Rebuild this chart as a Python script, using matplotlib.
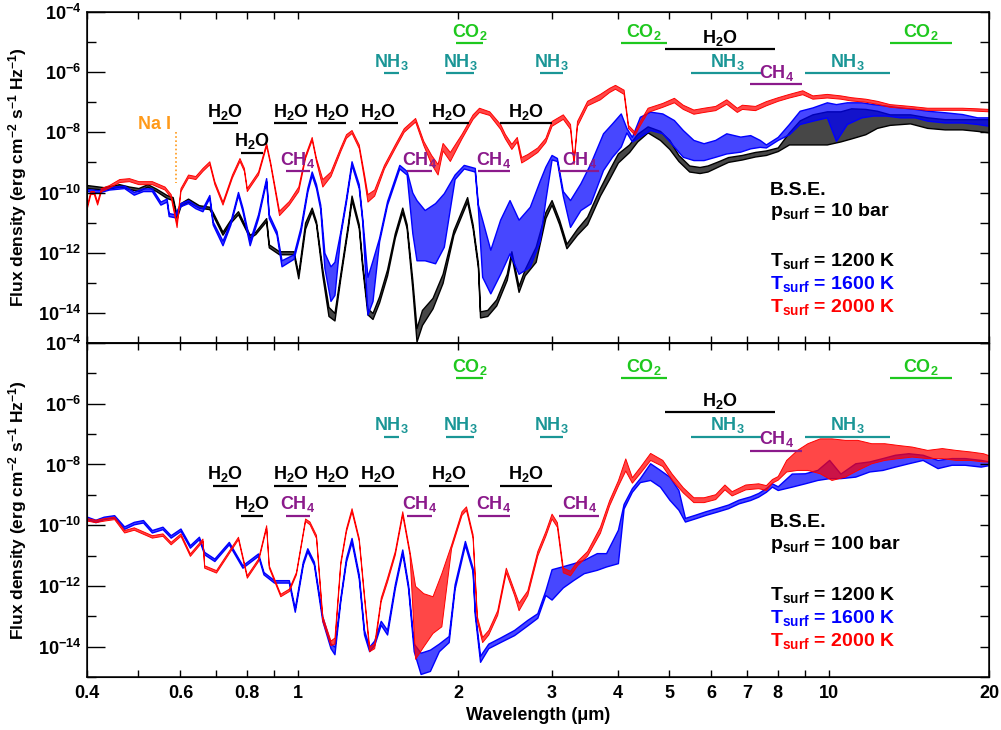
#!/usr/bin/env python3
# Emission spectra of a B.S.E. atmosphere for two surface pressures (10 bar / 100 bar)
# and three surface temperatures. Spectra are kept as lower / upper envelopes in
# log10(flux), drawn as thin filled bands.

import matplotlib

matplotlib.use("Agg")
import matplotlib.pyplot as plt
import numpy as np
from matplotlib.colors import to_rgba
from matplotlib.ticker import FixedLocator, NullFormatter, NullLocator

plt.rcParams["font.family"] = ["Liberation Sans", "DejaVu Sans"]
plt.rcParams["font.weight"] = "bold"
plt.rcParams["mathtext.fontset"] = "custom"
plt.rcParams["mathtext.rm"] = "Liberation Sans:bold"
plt.rcParams["mathtext.bf"] = "Liberation Sans:bold"
plt.rcParams["mathtext.it"] = "Liberation Sans:bold"
plt.rcParams["mathtext.default"] = "rm"

# ---------------------------------------------------------------------------------------------
# Data: p_surf = 10 bar (top panel)
# ---------------------------------------------------------------------------------------------

top_1200_wl = [0.40, 0.43, 0.46, 0.48, 0.50, 0.52, 0.54, 0.565, 0.58, 0.59, 0.60, 0.62, 0.65,
               0.68, 0.69, 0.72, 0.745, 0.77, 0.81, 0.83, 0.87, 0.88, 0.92, 0.98, 1.00, 1.03,
               1.06, 1.08, 1.11, 1.14, 1.17, 1.20, 1.24, 1.26, 1.30, 1.32, 1.35, 1.38, 1.42,
               1.47, 1.52, 1.57, 1.60, 1.64, 1.67, 1.71, 1.79, 1.87, 1.96, 2.08, 2.13, 2.18,
               2.20, 2.27, 2.36, 2.47, 2.52, 2.60, 2.67, 2.80, 2.92, 3.00, 3.10, 3.20, 3.35,
               3.50, 3.70, 3.85, 4.00, 4.20, 4.35, 4.55, 4.80, 5.00, 5.20, 5.45, 5.70, 5.90,
               6.20, 6.45, 6.85, 7.25, 7.60, 8.00, 8.40, 8.80, 9.30, 9.90, 10.5, 11.0, 11.7,
               12.3, 13.0, 14.2, 15.3, 16.5, 17.8, 19.0, 20.0]
top_1200_lo = [-9.85, -9.90, -9.80, -9.88, -9.95, -9.80, -9.95, -10.18, -10.25, -10.85, -10.45,
               -10.30, -10.50, -10.55, -10.75, -11.40, -11.00, -10.72, -11.50, -11.38, -10.95,
               -11.82, -12.05, -12.05, -12.85, -11.20, -10.62, -11.05, -12.75, -14.10, -14.25,
               -12.85, -11.18, -10.25, -11.18, -12.50, -14.05, -14.20, -13.65, -12.75, -11.50,
               -10.65, -11.18, -13.20, -14.95, -14.40, -13.85, -13.00, -11.40, -10.30, -11.18,
               -12.50, -14.15, -14.10, -13.75, -12.90, -12.10, -13.30, -12.75, -12.30, -10.85,
               -10.40, -11.05, -11.85, -11.40, -11.05, -10.10, -9.55, -9.00, -8.65, -8.30,
               -8.00, -8.25, -8.55, -8.95, -9.30, -9.35, -9.30, -9.12, -8.98, -8.90, -8.80,
               -8.75, -8.62, -8.40, -8.40, -8.40, -8.40, -8.30, -8.20, -8.06, -7.85, -7.75,
               -7.70, -7.85, -7.90, -7.90, -7.95, -8.00]
top_1200_hi = [-9.75, -9.82, -9.72, -9.80, -9.85, -9.72, -9.87, -10.08, -10.15, -10.75, -10.35,
               -10.20, -10.42, -10.47, -10.65, -11.30, -10.90, -10.62, -11.40, -11.30, -10.85,
               -11.72, -11.95, -11.95, -12.70, -11.00, -10.50, -10.95, -12.55, -13.80, -14.00,
               -12.70, -11.05, -10.10, -11.05, -12.35, -13.85, -14.00, -13.45, -12.55, -11.35,
               -10.50, -11.05, -12.90, -14.50, -13.90, -13.50, -12.70, -11.25, -10.15, -11.05,
               -12.35, -13.95, -13.90, -13.55, -12.70, -11.95, -13.10, -12.55, -11.80, -10.65,
               -10.25, -10.90, -11.70, -11.20, -10.80, -9.85, -9.25, -8.70, -8.40, -8.05,
               -7.80, -7.95, -8.25, -8.75, -9.10, -9.15, -9.10, -8.95, -8.82, -8.75, -8.65,
               -8.60, -8.50, -8.00, -7.60, -7.40, -7.30, -7.30, -7.20, -7.22, -7.28, -7.40,
               -7.40, -7.50, -7.56, -7.56, -7.56, -7.56]

top_1600_wl = [0.40, 0.42, 0.44, 0.47, 0.49, 0.51, 0.53, 0.55, 0.565, 0.57, 0.585, 0.60, 0.62,
               0.64, 0.66, 0.68, 0.69, 0.72, 0.745, 0.77, 0.785, 0.81, 0.84, 0.87, 0.88, 0.91,
               0.93, 0.98, 1.01, 1.04, 1.06, 1.08, 1.10, 1.12, 1.15, 1.17, 1.20, 1.23, 1.26,
               1.30, 1.32, 1.35, 1.38, 1.42, 1.47, 1.55, 1.60, 1.64, 1.67, 1.73, 1.81, 1.88,
               1.97, 2.05, 2.15, 2.18, 2.22, 2.30, 2.40, 2.50, 2.60, 2.73, 2.85, 2.92, 3.00,
               3.07, 3.15, 3.25, 3.40, 3.55, 3.75, 3.90, 4.05, 4.15, 4.25, 4.40, 4.60, 4.85,
               5.10, 5.30, 5.55, 5.80, 6.10, 6.40, 6.80, 7.10, 7.40, 7.60, 8.00, 8.40, 8.80,
               9.30, 9.90, 10.3, 10.8, 11.5, 12.1, 12.8, 13.6, 14.5, 15.3, 16.5, 17.8, 19.0,
               20.0]
top_1600_lo = [-9.95, -10.00, -9.90, -9.85, -10.07, -9.95, -9.95, -10.40, -10.30, -10.78,
               -10.82, -10.45, -10.35, -10.52, -10.62, -10.18, -11.06, -11.75, -11.06, -10.08,
               -10.62, -11.75, -10.85, -9.62, -10.85, -11.40, -12.45, -12.20, -11.30, -9.98,
               -9.42, -9.85, -10.55, -12.50, -13.60, -13.40, -11.42, -10.30, -9.08, -9.85,
               -10.98, -14.05, -13.60, -11.62, -10.40, -9.20, -9.40, -11.35, -12.25, -12.25,
               -12.35, -11.80, -9.55, -9.20, -9.30, -10.55, -12.80, -13.35, -12.70, -12.02,
               -12.70, -12.46, -11.60, -10.25, -8.90, -8.95, -10.10, -11.14, -10.58, -10.36,
               -9.25, -8.81, -8.47, -8.00, -8.30, -8.14, -7.92, -8.03, -8.47, -8.81, -8.92,
               -8.92, -8.81, -8.70, -8.64, -8.53, -8.48, -8.50, -8.25, -8.06, -7.72, -7.61,
               -7.50, -8.28, -7.72, -7.50, -7.44, -7.44, -7.50, -7.50, -7.61, -7.67, -7.67,
               -7.72, -7.78]
top_1600_hi = [-9.88, -9.92, -9.82, -9.77, -9.98, -9.86, -9.86, -10.30, -10.20, -10.68, -10.72,
               -10.35, -10.25, -10.42, -10.52, -10.08, -10.96, -11.60, -10.96, -9.98, -10.50,
               -11.60, -10.72, -9.52, -10.72, -11.28, -12.25, -12.05, -11.15, -9.85, -9.30,
               -9.72, -10.40, -12.00, -12.45, -12.30, -11.30, -10.18, -8.96, -9.72, -10.85,
               -12.80, -12.25, -11.50, -10.28, -9.08, -9.28, -10.00, -10.25, -10.58, -10.35,
               -10.02, -9.40, -9.08, -9.18, -10.40, -10.90, -11.90, -10.90, -10.25, -10.90,
               -10.47, -9.60, -9.14, -8.75, -8.85, -9.95, -10.25, -9.69, -9.03, -8.03, -7.70,
               -7.37, -7.85, -8.15, -7.48, -7.31, -7.37, -7.59, -7.92, -8.25, -8.36, -8.25,
               -8.03, -8.14, -8.09, -8.25, -8.40, -8.15, -7.72, -7.28, -7.17, -7.00, -7.06,
               -7.00, -7.00, -7.06, -7.11, -7.17, -7.22, -7.28, -7.33, -7.39, -7.50, -7.50]

top_2000_wl = [0.400, 0.406, 0.412, 0.418, 0.425, 0.44, 0.46, 0.48, 0.50, 0.53, 0.56, 0.575,
               0.59, 0.60, 0.62, 0.64, 0.66, 0.68, 0.695, 0.72, 0.75, 0.775, 0.79, 0.80, 0.84,
               0.87, 0.885, 0.92, 0.96, 1.00, 1.03, 1.06, 1.08, 1.11, 1.15, 1.20, 1.23, 1.26,
               1.30, 1.33, 1.35, 1.39, 1.45, 1.52, 1.58, 1.66, 1.72, 1.78, 1.83, 1.87, 1.93,
               2.03, 2.13, 2.19, 2.29, 2.40, 2.45, 2.52, 2.58, 2.63, 2.70, 2.82, 2.92, 3.00,
               3.15, 3.25, 3.30, 3.35, 3.50, 3.70, 3.85, 3.95, 4.10, 4.18, 4.30, 4.40, 4.55,
               4.85, 5.10, 5.30, 5.55, 5.80, 6.10, 6.40, 6.70, 6.85, 7.25, 7.60, 8.00, 8.40,
               8.90, 9.30, 9.90, 10.5, 11.0, 11.7, 12.3, 13.0, 14.2, 15.3, 16.5, 17.8, 19.0,
               20.0]
top_2000_lo = [-10.50, -10.05, -10.05, -10.40, -9.95, -9.83, -9.65, -9.62, -9.72, -9.72, -9.90,
               -10.15, -11.15, -9.95, -9.50, -9.55, -9.28, -9.06, -9.72, -10.40, -9.50, -8.95,
               -9.28, -9.95, -9.40, -8.45, -9.06, -10.75, -10.40, -9.95, -8.85, -8.25, -8.95,
               -9.80, -9.45, -8.62, -8.18, -8.02, -8.52, -9.55, -10.30, -10.10, -9.20, -8.52,
               -7.98, -7.64, -8.42, -9.05, -9.40, -8.60, -8.95, -8.20, -7.55, -7.32, -7.42,
               -7.88, -8.20, -8.55, -8.30, -9.00, -8.88, -8.65, -8.32, -7.78, -7.55, -7.88,
               -9.05, -7.78, -7.10, -6.90, -6.66, -6.55, -6.72, -7.85, -8.08, -7.75, -7.32,
               -7.15, -7.00, -7.22, -7.38, -7.32, -7.26, -7.05, -7.32, -7.22, -7.26, -7.10,
               -6.95, -6.84, -6.73, -6.88, -6.84, -6.88, -6.94, -6.98, -7.05, -7.15, -7.20,
               -7.25, -7.25, -7.25, -7.28, -7.30]
top_2000_hi = [-10.40, -9.95, -9.95, -10.30, -9.85, -9.75, -9.55, -9.52, -9.62, -9.62, -9.80,
               -10.05, -11.00, -9.85, -9.40, -9.45, -9.18, -8.96, -9.62, -10.30, -9.40, -8.85,
               -9.18, -9.85, -9.30, -8.35, -8.96, -10.60, -10.28, -9.80, -8.75, -8.15, -8.85,
               -9.55, -9.30, -8.50, -8.06, -7.92, -8.40, -9.38, -10.05, -9.90, -9.08, -8.40,
               -7.86, -7.52, -8.28, -8.75, -9.05, -8.35, -8.65, -8.05, -7.40, -7.18, -7.30,
               -7.72, -8.05, -8.38, -8.15, -8.82, -8.72, -8.50, -8.18, -7.62, -7.40, -7.72,
               -8.95, -7.62, -6.95, -6.72, -6.52, -6.42, -6.58, -7.75, -7.98, -7.62, -7.18,
               -7.02, -6.85, -7.08, -7.24, -7.18, -7.12, -6.90, -7.18, -7.08, -7.12, -6.96,
               -6.83, -6.72, -6.60, -6.77, -6.72, -6.77, -6.83, -6.88, -6.95, -7.06, -7.12,
               -7.18, -7.18, -7.18, -7.20, -7.22]

# ---------------------------------------------------------------------------------------------
# Data: p_surf = 100 bar (bottom panel)
# ---------------------------------------------------------------------------------------------

bot_1600_wl = [0.40, 0.415, 0.43, 0.45, 0.47, 0.49, 0.51, 0.53, 0.555, 0.575, 0.60, 0.625, 0.65,
               0.665, 0.695, 0.74, 0.785, 0.84, 0.86, 0.90, 0.96, 0.985, 1.02, 1.04, 1.07, 1.11,
               1.15, 1.17, 1.20, 1.23, 1.26, 1.30, 1.33, 1.36, 1.39, 1.43, 1.47, 1.52, 1.57,
               1.61, 1.65, 1.70, 1.77, 1.84, 1.92, 1.97, 2.06, 2.13, 2.15, 2.20, 2.28, 2.40,
               2.55, 2.70, 2.82, 2.92, 3.00, 3.15, 3.30, 3.45, 3.65, 3.80, 4.00, 4.10, 4.25,
               4.40, 4.60, 4.80, 5.00, 5.20, 5.35, 5.60, 5.85, 6.15, 6.45, 6.75, 7.10, 7.35,
               7.60, 7.80, 8.00, 8.50, 9.00, 9.50, 10.0, 10.5, 11.2, 11.9, 12.6, 13.3, 14.1,
               15.0, 16.0, 17.0, 18.0, 19.3, 20.0]
bot_1600_lo = [-9.80, -9.90, -9.80, -9.75, -10.12, -9.97, -9.91, -10.24, -10.13, -10.41, -10.19,
               -10.74, -10.46, -10.96, -11.18, -10.63, -11.40, -11.01, -11.62, -11.89, -11.89,
               -12.85, -11.30, -10.86, -11.30, -13.15, -14.05, -14.25, -12.50, -11.20, -10.55,
               -11.75, -13.60, -14.15, -13.95, -13.28, -13.60, -12.08, -10.92, -12.08, -14.15,
               -14.90, -14.80, -14.15, -13.85, -12.10, -10.65, -11.52, -12.95, -14.50, -14.05,
               -13.85, -13.62, -13.30, -13.05, -12.30, -12.45, -12.05, -11.80, -11.58, -11.47,
               -11.36, -11.25, -9.45, -8.90, -8.58, -8.51, -8.73, -9.16, -9.49, -9.88, -9.77,
               -9.66, -9.55, -9.44, -9.28, -9.17, -9.06, -8.90, -8.73, -8.84, -8.73, -8.62,
               -8.51, -8.45, -8.45, -8.40, -8.23, -8.18, -8.07, -7.96, -7.85, -8.12, -8.01,
               -8.01, -8.07, -8.02]
bot_1600_hi = [-9.72, -9.82, -9.72, -9.67, -10.04, -9.89, -9.83, -10.16, -10.05, -10.33, -10.11,
               -10.66, -10.38, -10.88, -11.10, -10.55, -11.32, -10.93, -11.54, -11.81, -11.81,
               -12.73, -11.20, -10.76, -11.20, -13.00, -13.90, -14.00, -12.40, -11.08, -10.42,
               -11.62, -13.45, -14.00, -13.80, -13.15, -13.45, -11.95, -10.80, -11.95, -13.90,
               -14.20, -14.10, -13.90, -13.65, -11.95, -10.52, -11.40, -12.80, -14.30, -13.90,
               -13.70, -13.45, -13.12, -12.90, -12.15, -11.45, -11.35, -11.25, -11.14, -10.92,
               -10.92, -10.15, -9.30, -8.78, -8.45, -7.96, -8.18, -8.40, -8.84, -9.76, -9.65,
               -9.54, -9.43, -9.32, -9.16, -9.05, -8.94, -8.78, -8.62, -8.72, -8.30, -8.29,
               -8.18, -7.85, -8.30, -7.96, -7.90, -7.79, -7.68, -7.63, -7.68, -7.85, -7.79,
               -7.79, -7.85, -7.90]

bot_2000_wl = [0.40, 0.415, 0.43, 0.45, 0.47, 0.49, 0.53, 0.555, 0.575, 0.60, 0.625, 0.66,
               0.665, 0.70, 0.77, 0.80, 0.84, 0.87, 0.88, 0.925, 0.96, 0.99, 1.03, 1.05, 1.08,
               1.11, 1.15, 1.17, 1.20, 1.23, 1.26, 1.30, 1.33, 1.36, 1.39, 1.43, 1.47, 1.52,
               1.57, 1.62, 1.66, 1.72, 1.79, 1.86, 1.94, 2.03, 2.07, 2.13, 2.17, 2.22, 2.28,
               2.37, 2.46, 2.55, 2.60, 2.70, 2.82, 2.92, 3.00, 3.07, 3.15, 3.25, 3.35, 3.50,
               3.70, 3.85, 4.00, 4.13, 4.25, 4.40, 4.60, 4.85, 5.05, 5.30, 5.55, 5.80, 6.10,
               6.35, 6.55, 6.95, 7.35, 7.60, 7.80, 8.00, 8.30, 8.70, 9.10, 9.60, 10.1, 10.7,
               11.3, 12.0, 12.7, 13.5, 14.3, 15.3, 16.3, 17.3, 18.4, 19.5, 20.0]
bot_2000_lo = [-9.85, -9.90, -9.85, -9.80, -10.24, -10.15, -10.41, -10.35, -10.63, -10.35,
               -11.01, -10.52, -11.40, -11.56, -10.46, -11.73, -11.18, -10.08, -11.40, -12.34,
               -12.17, -11.62, -9.86, -9.97, -10.42, -13.15, -13.95, -13.90, -11.30, -10.20,
               -9.55, -10.52, -12.40, -14.15, -14.05, -12.50, -11.85, -10.97, -9.66, -10.97,
               -14.40, -13.99, -13.55, -13.33, -10.76, -9.66, -9.50, -10.42, -13.15, -13.85,
               -13.60, -12.95, -11.55, -12.30, -12.80, -12.30, -11.00, -10.35, -9.78, -10.05,
               -11.55, -11.65, -11.32, -11.00, -10.25, -9.35, -8.70, -8.20, -8.60, -8.28,
               -7.85, -8.05, -8.50, -8.92, -9.24, -9.24, -9.14, -8.82, -9.02, -8.82, -8.78,
               -8.84, -8.60, -8.50, -8.23, -8.18, -8.18, -8.29, -8.51, -8.40, -8.18, -7.96,
               -7.85, -7.79, -7.74, -7.79, -7.79, -7.85, -7.85, -7.90, -7.90]
bot_2000_hi = [-9.77, -9.82, -9.77, -9.72, -10.16, -10.07, -10.33, -10.27, -10.55, -10.27,
               -10.93, -10.44, -11.32, -11.48, -10.38, -11.65, -11.10, -10.00, -11.32, -12.26,
               -12.09, -11.54, -9.78, -9.88, -10.32, -13.00, -13.80, -13.70, -11.20, -10.10,
               -9.44, -10.42, -12.28, -14.00, -13.90, -12.38, -11.72, -10.85, -9.54, -10.85,
               -12.00, -12.24, -12.34, -11.58, -10.64, -9.54, -9.38, -10.30, -13.00, -13.68,
               -13.45, -12.80, -11.40, -12.15, -12.55, -12.15, -10.85, -10.20, -9.62, -9.90,
               -11.40, -11.50, -11.18, -10.85, -10.05, -9.18, -8.52, -7.80, -8.42, -8.08,
               -7.62, -7.85, -8.30, -8.75, -9.08, -9.08, -8.98, -8.66, -8.88, -8.66, -8.62,
               -8.68, -8.48, -8.38, -7.85, -7.52, -7.30, -7.14, -7.14, -7.19, -7.19, -7.30,
               -7.30, -7.36, -7.41, -7.52, -7.46, -7.52, -7.57, -7.63, -7.70]

# ---------------------------------------------------------------------------------------------
# Absorption band markers: name, wavelength range (um), row
# ---------------------------------------------------------------------------------------------

band_names = ["H$_2$O", "H$_2$O", "H$_2$O", "H$_2$O", "H$_2$O", "H$_2$O", "H$_2$O", "H$_2$O",
              "CH$_4$", "CH$_4$", "CH$_4$", "CH$_4$", "CH$_4$",
              "NH$_3$", "NH$_3$", "NH$_3$", "NH$_3$", "NH$_3$",
              "CO$_2$", "CO$_2$", "CO$_2$"]
band_lo = [0.69, 0.78, 0.90, 1.09, 1.30, 1.76, 2.40, 4.90,
           0.95, 1.60, 2.18, 3.10, 7.10,
           1.45, 1.90, 2.85, 5.50, 9.00,
           1.98, 4.05, 13.0]
band_hi = [0.77, 0.86, 1.04, 1.23, 1.54, 2.10, 3.00, 7.90,
           1.05, 1.79, 2.50, 3.69, 8.90,
           1.55, 2.14, 3.15, 7.50, 13.0,
           2.23, 4.95, 17.0]
band_rows = ["h2o", "h2o_low", "h2o", "h2o", "h2o", "h2o", "h2o", "h2o_wide",
             "ch4", "ch4", "ch4", "ch4", "ch4_ir",
             "nh3", "nh3", "nh3", "nh3", "nh3",
             "co2", "co2", "co2"]

# log10 flux of each marker row, per panel
rows_10bar = {"h2o": -7.69, "h2o_low": -8.68, "h2o_wide": -5.23, "ch4": -9.28, "ch4_ir": -6.39,
              "nh3": -6.03, "co2": -5.03}
rows_100bar = {"h2o": -8.70, "h2o_low": -9.69, "h2o_wide": -6.27, "ch4": -9.69, "ch4_ir": -7.55,
               "nh3": -7.09, "co2": -5.15}

temperatures = ["1200", "1600", "2000"]

COLORS = {"1200": "black", "1600": "#0000ff", "2000": "#ff0000"}
MOL_COLORS = {"H": "black", "C": "#8b1a8b", "N": "#1a9696", "O": "#1ec81e"}
XTICKS = [0.4, 0.5, 0.6, 0.7, 0.8, 0.9, 1, 2, 3, 4, 5, 6, 7, 8, 9, 10, 20]
XLABELS = ["0.4", "", "0.6", "", "0.8", "", "1", "2", "3", "4", "5", "6", "7", "8", "", "10", "20"]


def mol_color(name: str) -> str:
    if name.startswith("H"):
        return MOL_COLORS["H"]
    if name.startswith("CH"):
        return MOL_COLORS["C"]
    if name.startswith("N"):
        return MOL_COLORS["N"]
    return MOL_COLORS["O"]


def draw_band(ax, wl, lo, hi, color, lw):
    # noisy stretches are filled slightly translucent so they read as a dense line forest
    ax.fill_between(wl, 10.0 ** np.array(lo), 10.0 ** np.array(hi),
                    facecolor=to_rgba(color, 0.72), edgecolor=color, linewidth=lw)


def style_axes(ax, show_xlabels: bool) -> None:
    ax.set_xscale("log")
    ax.set_yscale("log")
    ax.set_xlim(0.4, 20)
    ax.set_ylim(1e-15, 1e-4)
    for sp in ax.spines.values():
        sp.set_linewidth(1.1)

    ax.xaxis.set_major_locator(FixedLocator(XTICKS))
    ax.xaxis.set_minor_locator(NullLocator())
    ax.set_xticklabels(XLABELS if show_xlabels else [""] * len(XTICKS))
    ax.tick_params(axis="x", which="major", direction="in", length=5, width=1.0,
                   top=True, bottom=True, labelsize=13, pad=6)

    ax.yaxis.set_major_locator(FixedLocator([10.0 ** e for e in range(-14, -3, 2)]))
    ax.yaxis.set_minor_locator(FixedLocator([10.0 ** e for e in range(-15, -4, 2)]))
    ax.yaxis.set_minor_formatter(NullFormatter())
    ax.set_yticklabels([rf"$10^{{{e}}}$" for e in range(-14, -3, 2)])
    ax.tick_params(axis="y", which="major", direction="in", length=13, width=1.0,
                   labelsize=13, pad=4)
    ax.tick_params(axis="y", which="minor", direction="in", length=6.5, width=1.0)

    right = ax.twinx()
    right.set_yscale("log")
    right.set_ylim(1e-15, 1e-4)
    right.yaxis.set_major_locator(FixedLocator([10.0 ** e for e in range(-15, -3)]))
    right.yaxis.set_minor_locator(NullLocator())
    right.yaxis.set_major_formatter(NullFormatter())
    right.tick_params(axis="y", direction="in", length=6.5, width=1.0, labelright=False)


def draw_markers(ax, rows) -> None:
    for name, lo, hi, row in zip(band_names, band_lo, band_hi, band_rows):
        y = 10.0 ** rows[row]
        color = mol_color(name)
        ax.plot([lo, hi], [y, y], color=color, lw=1.6, solid_capstyle="butt")
        ax.annotate(name, xy=(np.sqrt(lo * hi), y), xytext=(0, 1), textcoords="offset points",
                    ha="center", va="bottom", fontsize=13, fontweight="bold", color=color)


def draw_legend(ax, pressure: str) -> None:
    kw = dict(transform=ax.transAxes, fontsize=14, fontweight="bold", ha="left", va="center")
    ax.text(0.757, 0.462, "B.S.E.", color="black", **kw)
    ax.text(0.757, 0.396, f"p$_{{surf}}$ = {pressure} bar", color="black", **kw)
    for t, y in zip(temperatures, [0.247, 0.178, 0.109]):
        ax.text(0.757, y, f"T$_{{surf}}$ = {t} K", color=COLORS[t], **kw)


def main() -> None:
    fig = plt.figure(figsize=(10.01, 7.30), dpi=100)
    ax_top = fig.add_axes([0.0869, 0.5301, 0.9011, 0.4534])
    ax_bot = fig.add_axes([0.0869, 0.0726, 0.9011, 0.4575])

    draw_band(ax_top, top_1200_wl, top_1200_lo, top_1200_hi, COLORS["1200"], 1.0)
    draw_band(ax_top, top_1600_wl, top_1600_lo, top_1600_hi, COLORS["1600"], 1.0)
    draw_band(ax_top, top_2000_wl, top_2000_lo, top_2000_hi, COLORS["2000"], 0.7)

    draw_band(ax_bot, bot_1600_wl, bot_1600_lo, bot_1600_hi, COLORS["1600"], 1.0)
    draw_band(ax_bot, bot_2000_wl, bot_2000_lo, bot_2000_hi, COLORS["2000"], 0.7)

    for ax, rows, p, show in [(ax_top, rows_10bar, "10", False), (ax_bot, rows_100bar, "100", True)]:
        style_axes(ax, show)
        draw_markers(ax, rows)
        draw_legend(ax, p)

    # Na I doublet
    ax_top.plot([0.589, 0.589], [10.0 ** -8.0, 10.0 ** -9.68], color="#ff9a1a", lw=1.2,
                ls=(0, (1, 1.5)))
    ax_top.text(0.537, 10.0 ** -7.75, "Na I", color="#ff9a1a", fontsize=13, fontweight="bold",
                ha="center", va="center")

    ylabel = "Flux density (erg cm$^{-2}$ s$^{-1}$ Hz$^{-1}$)"
    fig.text(0.018, 1 - 177 / 730, ylabel, rotation=90, ha="center", va="center",
             fontsize=12.5, fontweight="bold")
    fig.text(0.018, 1 - 510 / 730, ylabel, rotation=90, ha="center", va="center",
             fontsize=12.5, fontweight="bold")
    fig.text(0.5375, 1 - 716 / 730, "Wavelength (\u03bcm)", ha="center", va="center",
             fontsize=13, fontweight="bold")

    fig.savefig("out.png", dpi=100)
    plt.close(fig)


if __name__ == "__main__":
    main()
